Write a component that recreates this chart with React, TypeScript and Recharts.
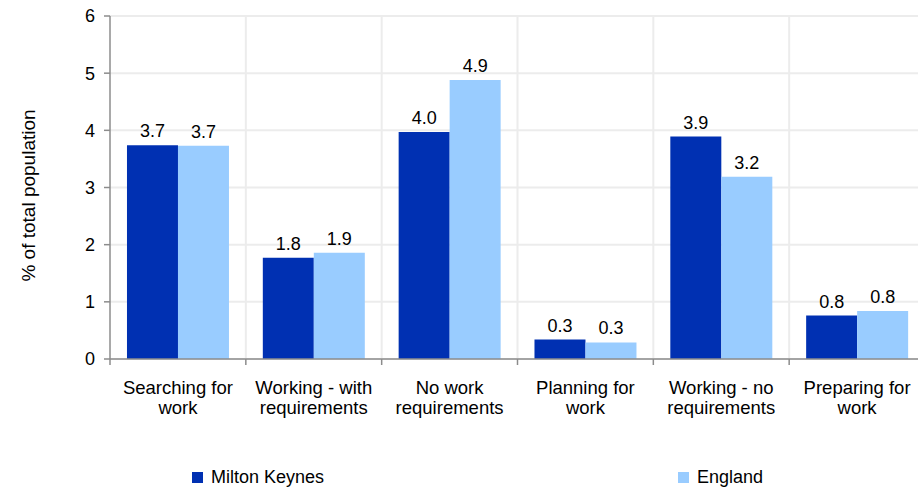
import React from 'react'
import {
  BarChart,
  Bar,
  XAxis,
  YAxis,
  CartesianGrid,
  Legend,
  LabelList,
} from 'recharts'

const categories = [
  'Searching for|work',
  'Working - with|requirements',
  'No work|requirements',
  'Planning for|work',
  'Working - no|requirements',
  'Preparing for|work',
]
const miltonKeynes = [3.74, 1.77, 3.97, 0.34, 3.89, 0.76]
const england = [3.73, 1.86, 4.88, 0.29, 3.19, 0.84]
const yTicks = [0, 1, 2, 3, 4, 5, 6]

const SERIES = [
  { key: 'mk', name: 'Milton Keynes', color: '#0030B2', legendX: 192 },
  { key: 'eng', name: 'England', color: '#99CCFF', legendX: 678 },
]

const data = categories.map((c, i) => ({ category: c, mk: miltonKeynes[i], eng: england[i] }))

const FONT = '"Liberation Sans", Arial, sans-serif'
const AXIS = '#8c8c8c'
const GRID = '#ececec'

const CategoryTick = ({ x, y, payload }: any) => {
  const lines = String(payload.value).split('|')
  const half = payload.offset || 0
  return (
    <g>
      <line x1={x - half} x2={x - half} y1={y} y2={y + 6} stroke={AXIS} strokeWidth={1.5} />
      <text x={x} y={y + 35} textAnchor="middle" fontSize={18.5} fontFamily={FONT} fill="#000">
        {lines.map((l, i) => (
          <tspan key={i} x={x} dy={i === 0 ? 0 : 20}>{l}</tspan>
        ))}
      </text>
    </g>
  )
}

const YLabel = ({ viewBox }: any) => {
  const x = viewBox.x + 28
  const y = viewBox.y + viewBox.height / 2 + 8
  return (
    <text
      x={x}
      y={y}
      transform={`rotate(-90 ${x} ${y})`}
      textAnchor="middle"
      dominantBaseline="central"
      fontSize={19}
      fontFamily={FONT}
      fill="#000"
    >
      % of total population
    </text>
  )
}

const LegendContent = () => (
  <div style={{ position: 'relative', height: 24, fontFamily: FONT, fontSize: 18, lineHeight: '24px' }}>
    {SERIES.map((s) => (
      <div key={s.key} style={{ position: 'absolute', left: s.legendX, top: 0, display: 'flex', alignItems: 'center' }}>
        <span style={{ width: 11, height: 11, background: s.color, display: 'inline-block', marginRight: 8 }} />
        <span style={{ color: '#000' }}>{s.name}</span>
      </div>
    ))}
  </div>
)

export default function App() {
  return (
    <div style={{ position: 'fixed', left: 0, top: 0, width: 918, height: 489, overflow: 'hidden', background: '#fff' }}>
      <BarChart
        width={930}
        height={489}
        data={data}
        margin={{ top: 16, right: 5, bottom: 0, left: 0 }}
        barCategoryGap="12.5%"
        barGap={0}
      >
        <CartesianGrid
          stroke={GRID}
          strokeWidth={2}
          verticalCoordinatesGenerator={({ offset }: any) =>
            categories.slice(1).map((_, i) => offset.left + ((i + 1) * offset.width) / categories.length)
          }
        />
        <XAxis
          dataKey="category"
          height={106}
          axisLine={{ stroke: AXIS, strokeWidth: 1.5 }}
          tickLine={false}
          tickSize={0}
          tickMargin={0}
          interval={0}
          tick={<CategoryTick />}
        />
        <YAxis
          width={110}
          domain={[0, 6]}
          ticks={yTicks}
          interval={0}
          axisLine={{ stroke: AXIS, strokeWidth: 1.5 }}
          tickLine={{ stroke: AXIS, strokeWidth: 1.5 }}
          tickSize={6}
          tickMargin={9}
          tick={{ fontSize: 18, fontFamily: FONT, fill: '#000' }}
          label={<YLabel />}
        />
        <Legend verticalAlign="bottom" content={<LegendContent />} />
        {SERIES.map((s) => (
          <Bar key={s.key} dataKey={s.key} name={s.name} fill={s.color} isAnimationActive={false}>
            <LabelList
              dataKey={s.key}
              position="top"
              offset={8}
              formatter={(v: any) => Number(v).toFixed(1)}
              fill="#000"
              fontSize={18}
              fontFamily={FONT}
            />
          </Bar>
        ))}
      </BarChart>
    </div>
  )
}
